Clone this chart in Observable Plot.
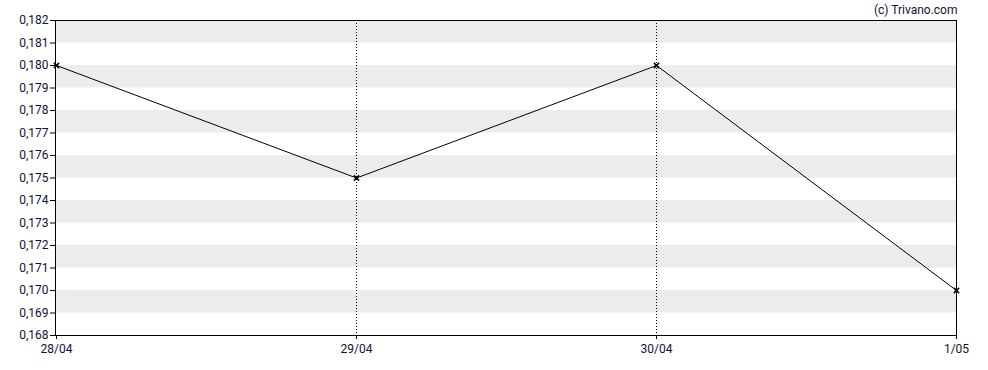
<!DOCTYPE html>
<html>
<head>
<meta charset="utf-8">
<script src="https://cdn.jsdelivr.net/npm/d3@7"></script>
<script src="https://cdn.jsdelivr.net/npm/@observablehq/plot@0.6"></script>
<style>
  html, body { margin: 0; padding: 0; background: #fff; }
  svg { display: block; }
</style>
</head>
<body>
<div id="chart"></div>
<script>
const dates = ["28/04", "29/04", "30/04", "1/05"];
const prices = [0.180, 0.175, 0.180, 0.170];
const yTicks = [0.168, 0.169, 0.170, 0.171, 0.172, 0.173, 0.174, 0.175, 0.176, 0.177, 0.178, 0.179, 0.180, 0.181, 0.182];
const bandStarts = [0.169, 0.171, 0.173, 0.175, 0.177, 0.179, 0.181];
const gridDates = ["29/04", "30/04"];
const credit = "(c) Trivano.com";

const data = dates.map((d, i) => ({date: d, price: prices[i]}));
const bands = bandStarts.map(b => ({y1: b, y2: +(b + 0.001).toFixed(3)}));
const fmt = v => v.toFixed(3).replace(".", ",");

const chart = Plot.plot({
  width: 988,
  height: 370,
  marginLeft: 55,
  marginRight: 32,
  marginTop: 20,
  marginBottom: 35,
  style: {fontFamily: "Roboto", fontSize: "12px", color: "#111133", background: "#fff"},
  x: {type: "point", domain: dates, padding: 0, label: null},
  y: {domain: [0.168, 0.182], label: null},
  marks: [
    Plot.rect(bands, {y1: "y1", y2: "y2", fill: "#ececec"}),
    Plot.ruleX(gridDates, {x: d => d, stroke: "#000", strokeDasharray: "1,2", strokeWidth: 1}),
    Plot.frame({stroke: "#000", strokeWidth: 1}),
    Plot.axisY({ticks: yTicks, tickFormat: fmt, tickSize: 5, tickPadding: 2, stroke: "#000", fill: "#111133", fontSize: 12}),
    Plot.axisX({ticks: dates, tickSize: 4, tickPadding: 5, stroke: "#000", fill: "#111133", fontSize: 12}),
    Plot.line(data, {x: "date", y: "price", stroke: "#000", strokeWidth: 1}),
    Plot.dot(data, {x: "date", y: "price", symbol: "times", r: 2.5, stroke: "#000", strokeWidth: 1.5}),
    Plot.text([credit], {frameAnchor: "top-right", text: d => d, lineAnchor: "bottom", dy: -7, dx: 1, fill: "#111133", fontSize: 12})
  ]
});
document.getElementById("chart").appendChild(chart);
</script>
</body>
</html>
